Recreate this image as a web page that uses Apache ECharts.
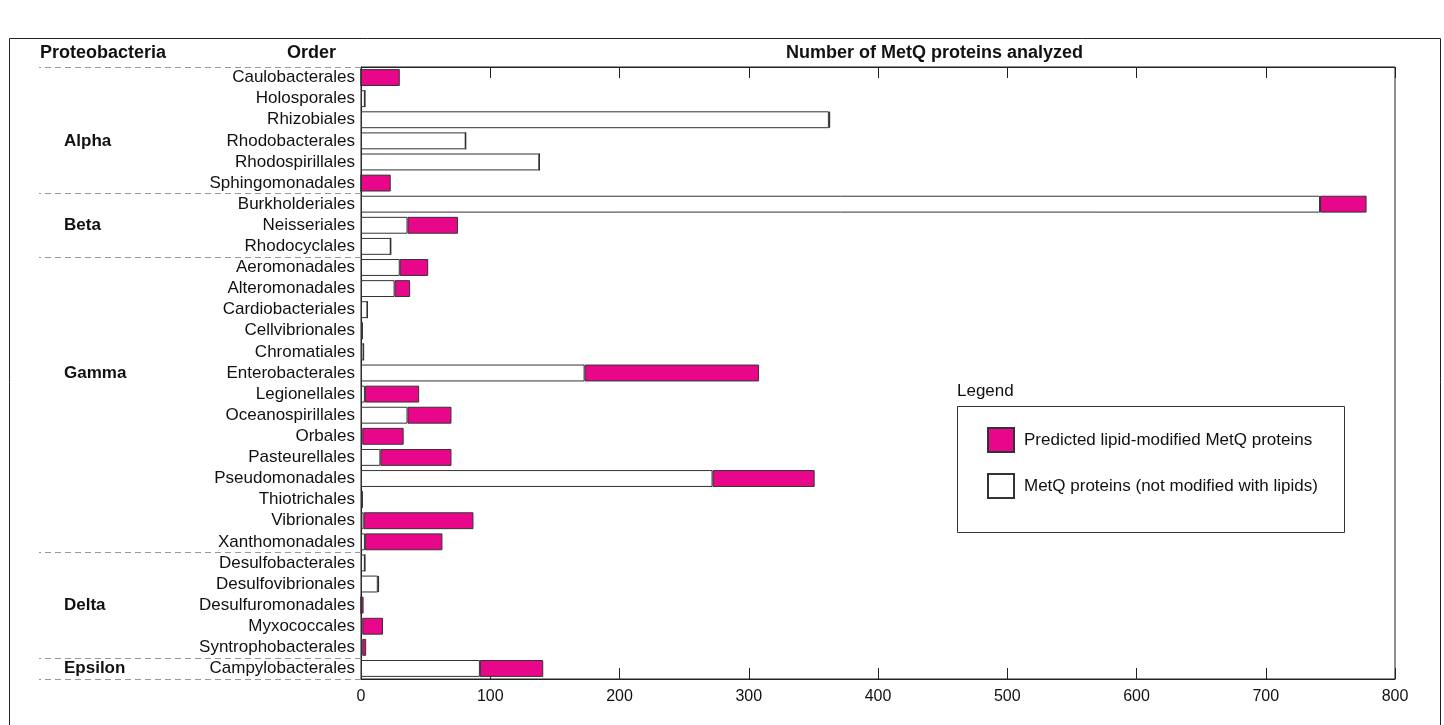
<!DOCTYPE html>
<html>
<head>
<meta charset="utf-8">
<script src="https://cdn.jsdelivr.net/npm/echarts@6/dist/echarts.min.js"></script>
<style>
html,body{margin:0;padding:0;background:#fff;}
#chart{width:1444px;height:725px;}
</style>
</head>
<body>
<div id="chart"></div>
<script>
// ---- data ----
const categories = [
  'Caulobacterales','Holosporales','Rhizobiales','Rhodobacterales','Rhodospirillales','Sphingomonadales',
  'Burkholderiales','Neisseriales','Rhodocyclales',
  'Aeromonadales','Alteromonadales','Cardiobacteriales','Cellvibrionales','Chromatiales','Enterobacterales',
  'Legionellales','Oceanospirillales','Orbales','Pasteurellales','Pseudomonadales','Thiotrichales',
  'Vibrionales','Xanthomonadales',
  'Desulfobacterales','Desulfovibrionales','Desulfuromonadales','Myxococcales','Syntrophobacterales',
  'Campylobacterales'
];
// MetQ proteins not modified with lipids
const notLipid = [0,3,362,81,138,0, 742,36,23, 30,26,5,1,2,173,3,36,1,15,272,1,2,3, 3,13,0,1,1, 92];
// predicted lipid-modified MetQ proteins
const lipid    = [30,0,1,0,0,23, 36,39,0, 22,12,0,0,0,135,42,34,32,55,79,0,85,60, 0,1,2,16,3, 49];
// class of each order
const groupOf = [
  'Alpha','Alpha','Alpha','Alpha','Alpha','Alpha',
  'Beta','Beta','Beta',
  'Gamma','Gamma','Gamma','Gamma','Gamma','Gamma','Gamma','Gamma','Gamma','Gamma','Gamma','Gamma','Gamma','Gamma',
  'Delta','Delta','Delta','Delta','Delta',
  'Epsilon'
];
// row on which each class name is written
const groupLabelRow = {Alpha:3, Beta:7, Gamma:14, Delta:25, Epsilon:28};
const xTicks = [0,100,200,300,400,500,600,700,800];
const seriesNames = ['Predicted lipid-modified MetQ proteins','MetQ proteins (not modified with lipids)'];
const headers = ['Proteobacteria','Order','Number of MetQ proteins analyzed','Legend'];

// ---- chart ----
const PINK = '#e8078b';
const EDGE = '#333';
const FONT = 'Liberation Sans, Arial, Helvetica, sans-serif';

const chart = echarts.init(document.getElementById('chart'), null, {renderer:'canvas'});

function isGroupStart(i){ return i === 0 || groupOf[i] !== groupOf[i-1]; }

const option = {
  backgroundColor:'#fff',
  animation:false,
  textStyle:{fontFamily:FONT},
  title:[
    {text:headers[0], left:40, top:44, padding:0, textStyle:{fontSize:18, fontWeight:'bold', color:'#111', fontFamily:FONT}},
    {text:headers[1], left:287, top:44, padding:0, textStyle:{fontSize:18, fontWeight:'bold', color:'#111', fontFamily:FONT}},
    {text:headers[2], left:786, top:44, padding:0, textStyle:{fontSize:18, fontWeight:'bold', color:'#111', fontFamily:FONT}},
    {text:headers[3], left:957, top:383, padding:0, textStyle:{fontSize:17, fontWeight:'normal', color:'#111', fontFamily:FONT}}
  ],
  graphic:[
    {type:'rect', left:7, top:36, shape:{width:1431, height:720}, style:{fill:'none', stroke:'#222', lineWidth:1}, silent:true, z:0},
    {type:'rect', left:955, top:404, shape:{width:387, height:126}, style:{fill:'none', stroke:'#333', lineWidth:1}, silent:true, z:0}
  ],
  legend:{
    data:seriesNames,
    orient:'vertical',
    left:987, top:427, padding:0,
    itemWidth:26, itemHeight:24, itemGap:20,
    icon:'rect',
    textStyle:{fontSize:17, color:'#111', fontFamily:FONT, padding:[0,0,0,5]}
  },
  grid:{left:361, right:49, top:67, bottom:46, show:true, borderColor:'#222', borderWidth:1, containLabel:false},
  xAxis:[
    {type:'value', min:0, max:800, interval:100, position:'bottom',
     axisLine:{show:true, lineStyle:{color:'#222', width:1}},
     axisTick:{show:true, inside:true, length:11, lineStyle:{color:'#222'}},
     axisLabel:{fontSize:16, color:'#111', margin:10, fontFamily:FONT,
       formatter:function(v){ return xTicks.indexOf(v) >= 0 ? String(v) : ''; }},
     splitLine:{show:false}},
    {type:'value', min:0, max:800, interval:100, position:'top',
     axisLine:{show:true, lineStyle:{color:'#222', width:1}},
     axisTick:{show:true, inside:true, length:11, lineStyle:{color:'#222'}},
     axisLabel:{show:false}, splitLine:{show:false}}
  ],
  yAxis:[
    {type:'category', data:categories, inverse:true, position:'left',
     axisLine:{show:true, lineStyle:{color:'#222', width:1}},
     axisTick:{show:true, inside:false, length:322, alignWithLabel:false,
       interval:function(i){ return isGroupStart(i); },
       lineStyle:{color:'#999', type:[6,4], width:1}},
     axisLabel:{fontSize:17, color:'#111', margin:6, fontFamily:FONT, interval:0}},
    {type:'category', data:categories, inverse:true, position:'left', offset:297,
     axisLine:{show:false}, axisTick:{show:false},
     axisLabel:{interval:0, margin:0, align:'left', fontSize:17, fontWeight:'bold', color:'#111', fontFamily:FONT,
       formatter:function(v, i){ const g = groupOf[i]; return groupLabelRow[g] === i ? g : ''; }}}
  ],
  series:[
    {name:seriesNames[1], type:'bar', stack:'total', data:notLipid, barCategoryGap:'20%',
     itemStyle:{color:'#fff', borderColor:EDGE, borderWidth:1}},
    {name:seriesNames[0], type:'bar', stack:'total', data:lipid, barCategoryGap:'20%',
     itemStyle:{color:PINK, borderColor:EDGE, borderWidth:1}}
  ]
};
chart.setOption(option);
</script>
</body>
</html>
